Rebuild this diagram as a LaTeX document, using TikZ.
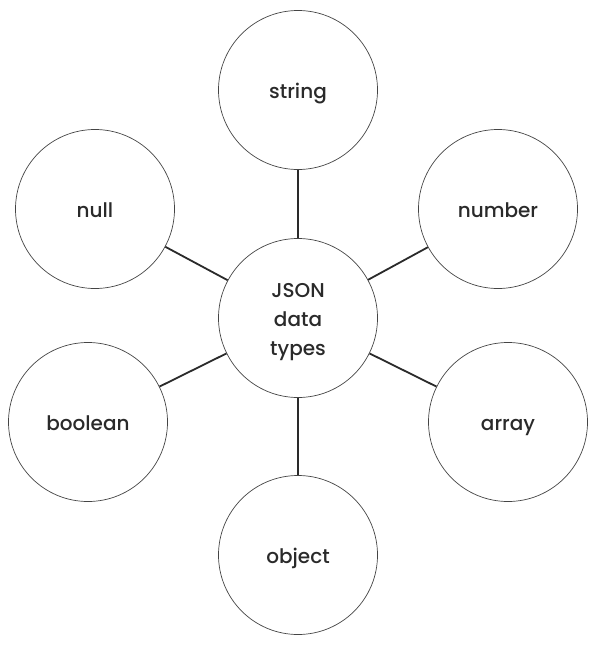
\documentclass[tikz,border=0pt]{standalone}
\usepackage{fontspec}
\setmainfont{Poppins}[UprightFont=* Medium]
\definecolor{ringgray}{HTML}{444444}
\definecolor{linkdark}{HTML}{2A2A2A}
\tikzset{
  typebox/.style={circle, draw=ringgray, line width=0.7pt, minimum size=159pt,
    inner sep=0pt, align=center, font=\fontsize{20pt}{29pt}\selectfont, text=linkdark,
    text height=17pt, text depth=1pt},
  hubbox/.style={typebox, text height=78pt, text depth=4pt},
  typelink/.style={draw=linkdark, line width=1.8pt}
}
\begin{document}
\begin{tikzpicture}[x=1pt,y=-1pt]
\useasboundingbox (0,0) rectangle (596,645);
\node[hubbox] (json) at (298,318) {JSON\\data\\types};

\node[typebox] (string) at (298,90) {string};
\node[typebox] (number) at (498,209) {number};
\node[typebox] (array) at (508,422) {array};
\node[typebox] (object) at (298,555) {object};
\node[typebox] (boolean) at (88,422) {boolean};
\node[typebox] (null) at (95,209) {null};

\foreach \t in {string,number,array,object,boolean,null}
  \draw[typelink] (json) -- (\t);
\end{tikzpicture}
\end{document}
